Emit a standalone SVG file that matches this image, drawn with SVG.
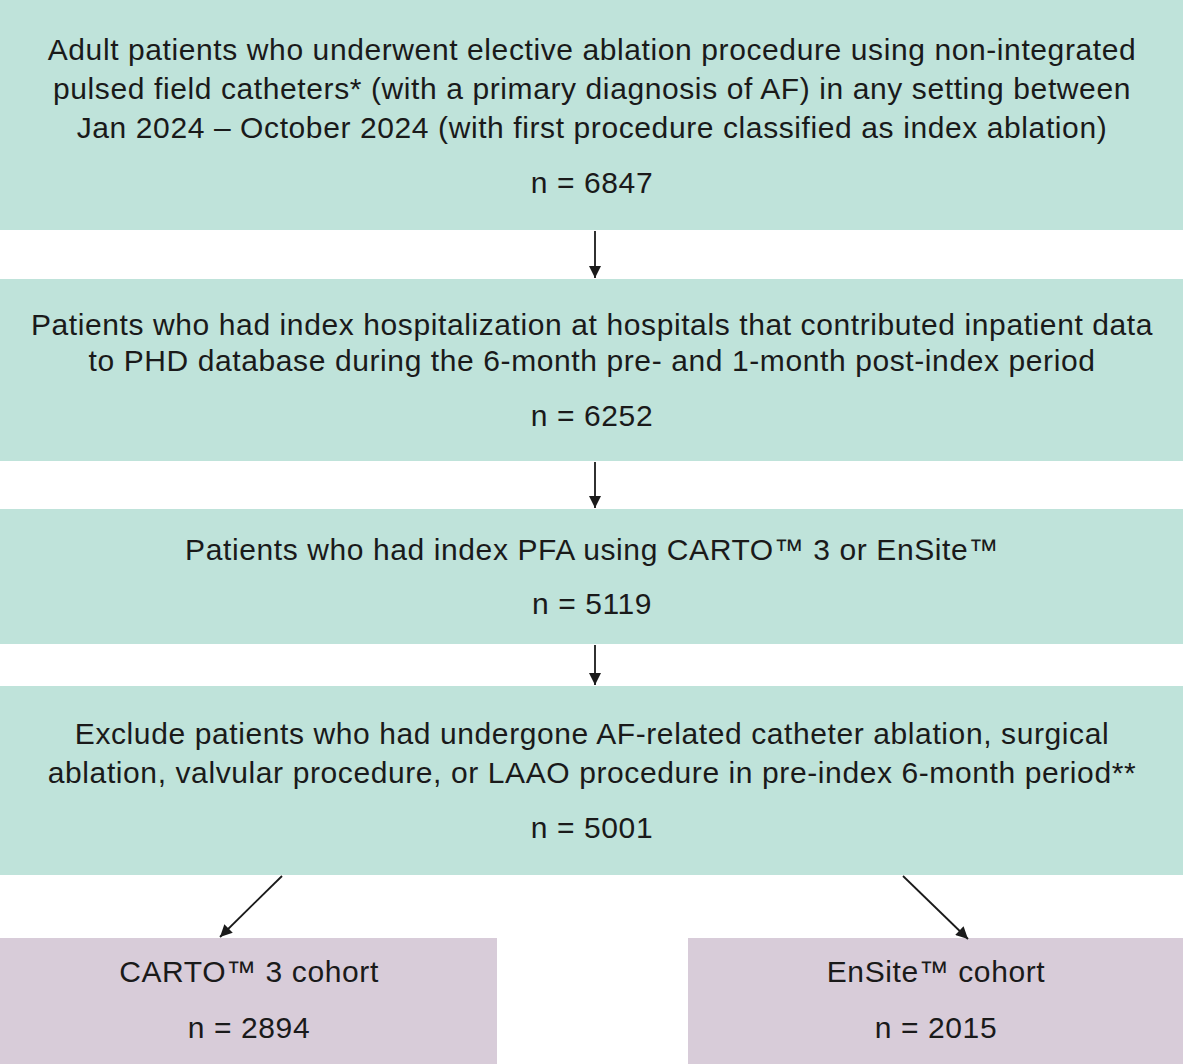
<svg xmlns="http://www.w3.org/2000/svg" width="1183" height="1064" viewBox="0 0 1183 1064">
<style>
.t{fill:#bfe3da}.p{fill:#d8ccd9}
text{font-family:"Liberation Sans",Arial,sans-serif;font-size:30px;letter-spacing:0.6px;fill:#1a1a1a;text-anchor:middle}
.c{stroke:#1a1a1a;stroke-width:1.8;fill:none;marker-end:url(#a)}
</style>
<defs><marker id="a" viewBox="0 0 10 10" refX="10" refY="5" markerWidth="14" markerHeight="12" markerUnits="userSpaceOnUse" orient="auto"><path d="M0,0L10,5L0,10z" fill="#1a1a1a"/></marker></defs>
<rect width="1183" height="1064" fill="#fff"/>
<g id="n1"><rect class="t" x="0" y="0" width="1183" height="230"/>
<text x="592" y="60">Adult patients who underwent elective ablation procedure using non-integrated</text>
<text x="592" y="99">pulsed field catheters* (with a primary diagnosis of AF) in any setting between</text>
<text x="592" y="138">Jan 2024 – October 2024 (with first procedure classified as index ablation)</text>
<text x="592" y="193">n = 6847</text></g>
<g id="n2"><rect class="t" x="0" y="279" width="1183" height="182"/>
<text x="592" y="335">Patients who had index hospitalization at hospitals that contributed inpatient data</text>
<text x="592" y="371">to PHD database during the 6-month pre- and 1-month post-index period</text>
<text x="592" y="426">n = 6252</text></g>
<g id="n3"><rect class="t" x="0" y="509" width="1183" height="135"/>
<text x="592" y="560">Patients who had index PFA using CARTO™ 3 or EnSite™</text>
<text x="592" y="614">n = 5119</text></g>
<g id="n4"><rect class="t" x="0" y="686" width="1183" height="189"/>
<text x="592" y="744">Exclude patients who had undergone AF-related catheter ablation, surgical</text>
<text x="592" y="783">ablation, valvular procedure, or LAAO procedure in pre-index 6-month period**</text>
<text x="592" y="838">n = 5001</text></g>
<g id="n5"><rect class="p" x="0" y="938" width="497" height="126"/>
<text x="249" y="982">CARTO™ 3 cohort</text>
<text x="249" y="1038">n = 2894</text></g>
<g id="n6"><rect class="p" x="688" y="938" width="495" height="126"/>
<text x="936" y="982">EnSite™ cohort</text>
<text x="936" y="1038">n = 2015</text></g>
<g id="connectors">
<line class="c" x1="595" y1="231" x2="595" y2="278"/>
<line class="c" x1="595" y1="462" x2="595" y2="508"/>
<line class="c" x1="595" y1="645" x2="595" y2="685"/>
<line class="c" x1="282" y1="876" x2="220" y2="937"/>
<line class="c" x1="903" y1="876" x2="968" y2="939"/>
</g>
</svg>
